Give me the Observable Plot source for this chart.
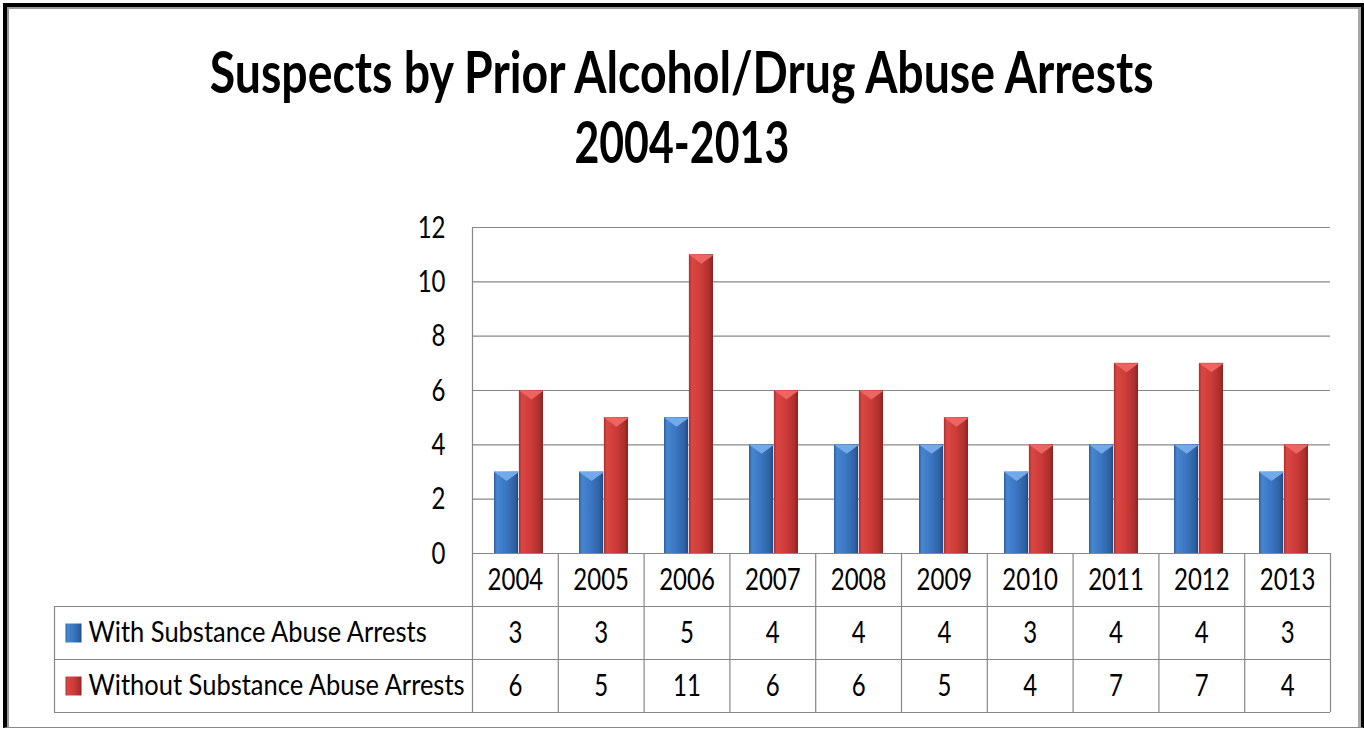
<!DOCTYPE html>
<html>
<head>
<meta charset="utf-8">
<script src="https://cdn.jsdelivr.net/npm/d3@7"></script>
<script src="https://cdn.jsdelivr.net/npm/@observablehq/plot@0.6"></script>
<style>
  body { margin: 0; background: #fff; }
  #wrap { position: relative; width: 1364px; height: 729px; overflow: hidden; background: #fff; }
  #border { position: absolute; left: 3px; top: 3px; width: 1361px; height: 725px; box-sizing: border-box;
    border-left: 4px solid #000; border-top: 4px solid #000; border-right: 3px solid #000; border-bottom: 1px solid #8a8a8a;
    box-shadow: inset 2px 2px 0 #9a9a9a, inset -3px 0 0 #a8a8a8; }
  .title { position: absolute; left: 0; width: 1364px; text-align: center; white-space: nowrap;
    font-family: Lato, "Open Sans", sans-serif; font-weight: 700;
    font-size: 57px; line-height: 1; color: #000; }
  .title span { display: inline-block; transform-origin: 50% 50%; }
  svg.chart { position: absolute; left: 0; background: transparent !important; overflow: visible !important; }
</style>
</head>
<body>
<svg id="defs" width="0" height="0" style="position:absolute"></svg>
<div id="wrap">
  <div id="border"></div>
</div>
<script>
// ---------- data ----------
const years = ["2004", "2005", "2006", "2007", "2008", "2009", "2010", "2011", "2012", "2013"];
const withArrests = [3, 3, 5, 4, 4, 4, 3, 4, 4, 3];
const withoutArrests = [6, 5, 11, 6, 6, 5, 4, 7, 7, 4];
const seriesNames = ["With Substance Abuse Arrests", "Without Substance Abuse Arrests"];
const yTicks = [0, 2, 4, 6, 8, 10, 12];
const titleLines = ["Suspects by Prior Alcohol/Drug Abuse Arrests", "2004-2013"];

const rows = years.map((year, i) => ({year, with: withArrests[i], without: withoutArrests[i]}));

// ---------- gradients ----------
document.getElementById("defs").innerHTML = `<defs>
  <linearGradient id="gBlue" x1="0" x2="1" y1="0" y2="0">
    <stop offset="0" stop-color="#2b5e9f"/>
    <stop offset="0.12" stop-color="#4686d0"/>
    <stop offset="0.5" stop-color="#3b76c1"/>
    <stop offset="0.85" stop-color="#2f62a3"/>
    <stop offset="1" stop-color="#1f4a85"/>
  </linearGradient>
  <linearGradient id="gRed" x1="0" x2="1" y1="0" y2="0">
    <stop offset="0" stop-color="#a62f2c"/>
    <stop offset="0.12" stop-color="#db4643"/>
    <stop offset="0.5" stop-color="#cc3c39"/>
    <stop offset="0.85" stop-color="#ad2f2d"/>
    <stop offset="1" stop-color="#8a2220"/>
  </linearGradient>
</defs>`;

const wrap = document.getElementById("wrap");
const FONT = "Lato, 'Open Sans', sans-serif";
const GRID = "#878787";
const FS = 24;          // font size for numbers (horizontal metrics)
const STRETCH = 1.3;    // vertical stretch of the original rendering
const FS_LABEL = 25.5;
const STRETCH_LABEL = 1.12;

// ---------- title ----------
const titleTops = [43, 113];
const titleWidths = [944, 215];
titleLines.forEach((t, i) => {
  const d = document.createElement("div");
  d.className = "title";
  d.style.top = titleTops[i] + "px";
  const s = document.createElement("span");
  s.textContent = t;
  d.appendChild(s);
  wrap.appendChild(d);
  const k = titleWidths[i] / s.getBoundingClientRect().width;
  s.style.transform = `scaleX(${k})`;
});

// ---------- chart ----------
const step = 858 / years.length;
const half = step * 0.58 / 2;

const triDown = {draw(ctx) { const w = half / 2; ctx.moveTo(-w, 0); ctx.lineTo(w, 0); ctx.lineTo(0, 9); ctx.closePath(); }};
const swatch = {draw(ctx) { ctx.rect(-8, -9.5, 16, 19); }};

function stretchTexts(svg) {
  svg.querySelectorAll("text").forEach(t => {
    const isLabel = seriesNames.includes(t.textContent);
    const tr = t.getAttribute("transform") || "";
    t.setAttribute("transform", tr + ` scale(1,${isLabel ? STRETCH_LABEL : STRETCH})`);
  });
}

const chart = Plot.plot({
  width: 1364,
  height: 354,
  marginTop: 27,
  marginBottom: 1,
  marginLeft: 472,
  marginRight: 34,
  style: {fontFamily: FONT, fontSize: FS + "px", color: "#000", background: "transparent", overflow: "visible"},
  x: {domain: years, paddingInner: 0.42, paddingOuter: 0.21, axis: null},
  y: {domain: [0, 12], axis: null},
  marks: [
    Plot.ruleY(yTicks, {stroke: GRID, strokeWidth: 1.2}),
    Plot.frame({anchor: "left", stroke: GRID, strokeWidth: 1.2}),
    Plot.barY(rows, {x: "year", y: "with", fill: "url(#gBlue)", insetRight: half}),
    Plot.barY(rows, {x: "year", y: "without", fill: "url(#gRed)", insetLeft: half}),
    Plot.dot(rows, {x: "year", y: "with", dx: -half / 2, r: 5, symbol: triDown, fill: "#72a9ea", stroke: "none"}),
    Plot.dot(rows, {x: "year", y: "without", dx: half / 2, r: 5, symbol: triDown, fill: "#ee6461", stroke: "none"}),
    Plot.axisY(yTicks, {tickSize: 0, tickPadding: 27, fontSize: FS, label: null, fill: "#000"})
  ]
});
chart.classList.add("chart");
chart.style.top = "200px";
stretchTexts(chart);
wrap.appendChild(chart);

// ---------- data table ----------
const labelCols = -(472 - 54) / step;
const cols = d3.range(years.length + 1);

const table = Plot.plot({
  width: 1364,
  height: 160,
  marginTop: 0,
  marginBottom: 1,
  marginLeft: 54,
  marginRight: 34,
  style: {fontFamily: FONT, fontSize: FS + "px", color: "#000", background: "transparent", overflow: "visible"},
  x: {type: "linear", domain: [labelCols, years.length], axis: null},
  y: {type: "linear", domain: [0, 3], reverse: true, axis: null},
  marks: [
    Plot.ruleY([1, 2, 3], {x1: labelCols, x2: years.length, stroke: GRID, strokeWidth: 1.2}),
    Plot.ruleX(cols, {y1: 0, y2: 3, stroke: GRID, strokeWidth: 1.2}),
    Plot.ruleX([labelCols], {y1: 1, y2: 3, stroke: GRID, strokeWidth: 1.2}),
    Plot.text(rows, {x: (d, i) => i + 0.5, y: () => 0.5, text: "year", fontSize: FS, fill: "#000"}),
    Plot.text(rows, {x: (d, i) => i + 0.5, y: () => 1.5, text: d => String(d.with), fontSize: FS, fill: "#000"}),
    Plot.text(rows, {x: (d, i) => i + 0.5, y: () => 2.5, text: d => String(d.without), fontSize: FS, fill: "#000"}),
    Plot.text(seriesNames, {x: () => labelCols, y: (d, i) => 1.5 + i, text: d => d, textAnchor: "start", dx: 34, fontSize: FS_LABEL, fill: "#000"}),
    Plot.dot([seriesNames[0]], {x: () => labelCols, y: () => 1.5, dx: 19, r: 5, symbol: swatch, fill: "url(#gBlue)", stroke: "none"}),
    Plot.dot([seriesNames[1]], {x: () => labelCols, y: () => 2.5, dx: 19, r: 5, symbol: swatch, fill: "url(#gRed)", stroke: "none"})
  ]
});
table.classList.add("chart");
table.style.top = "553px";
stretchTexts(table);
wrap.appendChild(table);
</script>
</body>
</html>
